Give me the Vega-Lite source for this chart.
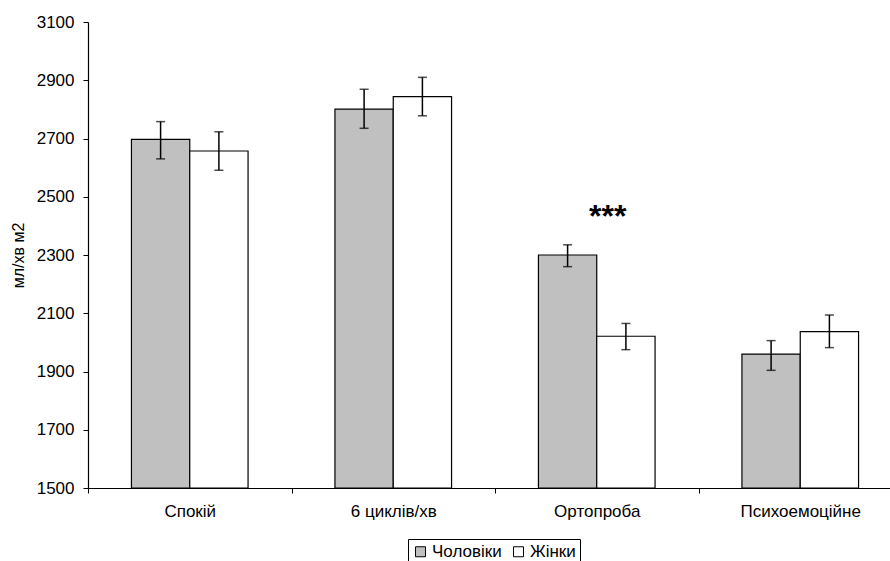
{
  "$schema": "https://vega.github.io/schema/vega-lite/v6.json",
  "width": 802,
  "height": 466,
  "autosize": "none",
  "padding": {"left": 88, "top": 22, "right": 0, "bottom": 73},
  "background": "white",
  "config": {
    "view": {"stroke": null},
    "font": "Liberation Sans",
    "axis": {"labelFont": "Liberation Sans", "titleFont": "Liberation Sans", "labelColor": "black", "titleColor": "black", "domainColor": "black", "tickColor": "black", "grid": false}
  },
  "datasets": {
    "bars": [
      {"cat": "Спокій", "sex": "Чоловіки", "value": 2697, "lo": 2630, "hi": 2758},
      {"cat": "Спокій", "sex": "Жінки", "value": 2657, "lo": 2591, "hi": 2723},
      {"cat": "6 циклів/хв", "sex": "Чоловіки", "value": 2801, "lo": 2735, "hi": 2869},
      {"cat": "6 циклів/хв", "sex": "Жінки", "value": 2844, "lo": 2778, "hi": 2910},
      {"cat": "Ортопроба", "sex": "Чоловіки", "value": 2300, "lo": 2260, "hi": 2335},
      {"cat": "Ортопроба", "sex": "Жінки", "value": 2021, "lo": 1975, "hi": 2065},
      {"cat": "Психоемоційне", "sex": "Чоловіки", "value": 1960, "lo": 1904, "hi": 2006},
      {"cat": "Психоемоційне", "sex": "Жінки", "value": 2037, "lo": 1982, "hi": 2094}
    ],
    "notes": [
      {"cat": "Ортопроба", "label": "***", "value": 2451}
    ]
  },
  "layer": [
    {
      "mark": {"type": "rule", "color": "#a0a0a0", "strokeWidth": 1.5},
      "encoding": {"y": {"datum": 3100, "type": "quantitative", "scale": {"domain": [1500, 3100], "nice": false, "zero": false}}}
    },
    {
      "data": {"name": "bars"},
      "layer": [
        {
          "mark": {"type": "bar", "stroke": "black", "strokeWidth": 1.2},
          "encoding": {
            "x": {"field": "cat", "type": "nominal", "sort": null,
              "scale": {"range": [0, 814], "paddingInner": 0, "paddingOuter": 0},
              "axis": {"title": null, "labelAngle": 0, "labelFontSize": 17, "tickSize": 5, "tickBand": "extent", "labelPadding": 10, "domainWidth": 1.2, "tickWidth": 1}},
            "xOffset": {"field": "sex", "type": "nominal", "sort": ["Чоловіки", "Жінки"], "scale": {"paddingOuter": 0.745, "paddingInner": 0}},
            "y": {"field": "value", "type": "quantitative",
              "scale": {"domain": [1500, 3100], "nice": false, "zero": false},
              "axis": {"title": "мл/хв м2", "format": "d", "titleFontSize": 16, "titleFontWeight": "normal", "titlePadding": 10, "values": [1500, 1700, 1900, 2100, 2300, 2500, 2700, 2900, 3100], "labelFontSize": 17, "tickSize": 5, "labelPadding": 9, "domainWidth": 1.2}},
            "y2": {"datum": 1500},
            "fill": {"field": "sex", "type": "nominal", "sort": ["Чоловіки", "Жінки"],
              "scale": {"domain": ["Чоловіки", "Жінки"], "range": ["#c0c0c0", "#ffffff"]},
              "legend": {"title": null, "orient": "none", "legendX": 320, "legendY": 517, "direction": "horizontal", "symbolType": "square", "symbolSize": 100, "symbolStrokeColor": "black", "symbolStrokeWidth": 1, "labelFontSize": 17, "labelFont": "Liberation Sans", "labelColor": "black", "labelOffset": 3, "columnPadding": 8, "strokeColor": "black", "padding": 4, "fillColor": "white"}}
          }
        },
        {
          "mark": {"type": "rule", "color": "black", "strokeWidth": 1.5},
          "encoding": {
            "x": {"field": "cat", "type": "nominal", "sort": null, "bandPosition": 0.5},
            "xOffset": {"field": "sex", "type": "nominal", "sort": ["Чоловіки", "Жінки"]},
            "y": {"field": "lo", "type": "quantitative"},
            "y2": {"field": "hi"}
          }
        },
        {
          "mark": {"type": "tick", "color": "black", "thickness": 1.5, "size": 9},
          "encoding": {
            "x": {"field": "cat", "type": "nominal", "sort": null},
            "xOffset": {"field": "sex", "type": "nominal", "sort": ["Чоловіки", "Жінки"]},
            "y": {"field": "lo", "type": "quantitative"}
          }
        },
        {
          "mark": {"type": "tick", "color": "black", "thickness": 1.5, "size": 9},
          "encoding": {
            "x": {"field": "cat", "type": "nominal", "sort": null},
            "xOffset": {"field": "sex", "type": "nominal", "sort": ["Чоловіки", "Жінки"]},
            "y": {"field": "hi", "type": "quantitative"}
          }
        }
      ]
    },
    {
      "data": {"name": "notes"},
      "mark": {"type": "text", "fontSize": 32, "fontWeight": "bold", "baseline": "middle", "align": "center", "dx": 11, "dy": 6, "color": "black"},
      "encoding": {
        "x": {"field": "cat", "type": "nominal", "sort": null},
        "y": {"field": "value", "type": "quantitative"},
        "text": {"field": "label"}
      }
    }
  ]
}
